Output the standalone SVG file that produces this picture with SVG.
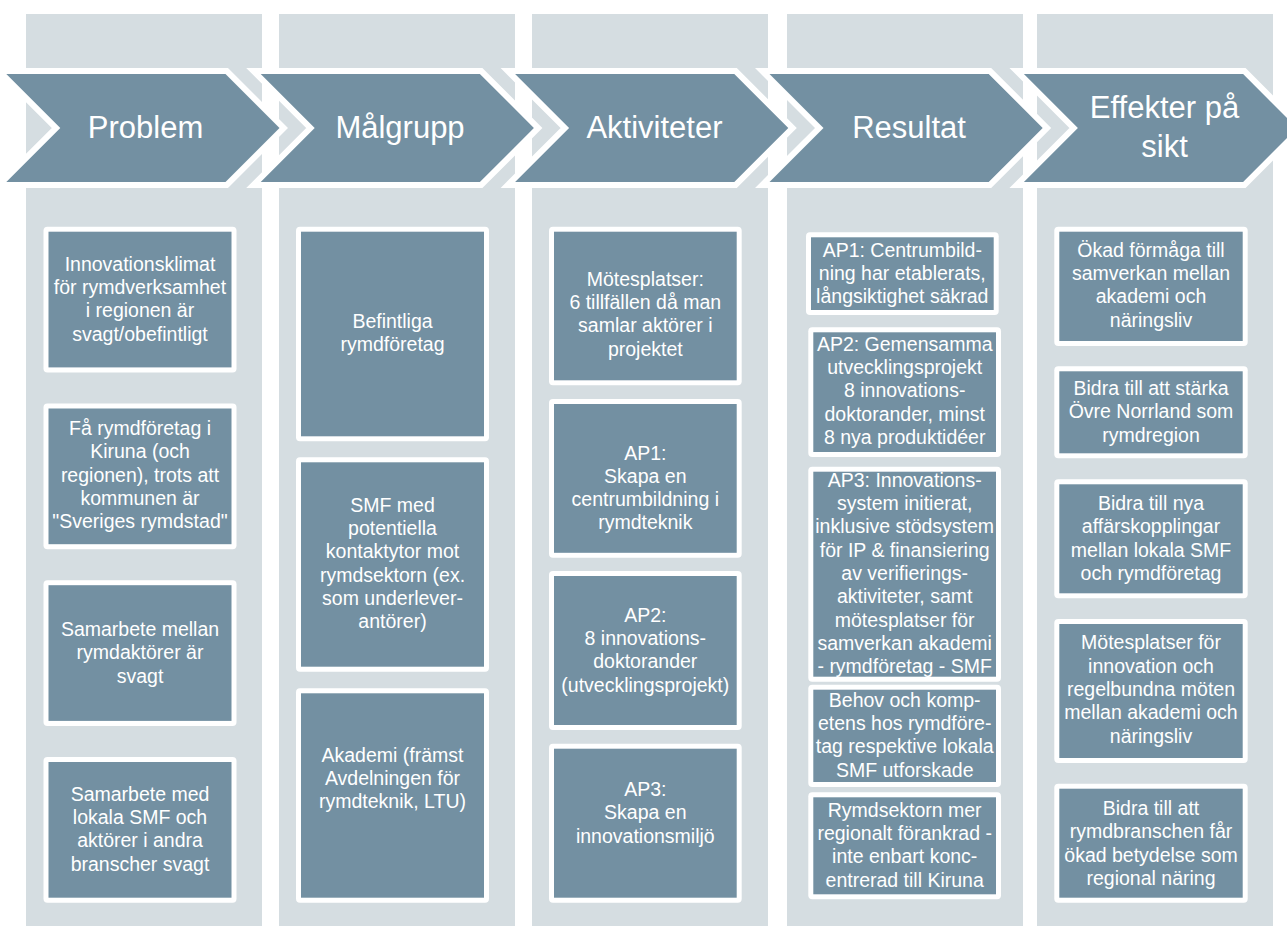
<svg xmlns="http://www.w3.org/2000/svg" width="1287" height="926" viewBox="0 0 1287 926">
<style>
.bg{fill:#ffffff}
.col{fill:#D5DDE1}
.chev{fill:#7390A2;stroke:#ffffff;stroke-width:12;stroke-linejoin:miter;stroke-miterlimit:10;paint-order:stroke}
.htxt{font-family:"Liberation Sans",Arial,sans-serif;font-size:31px;fill:#ffffff;text-anchor:middle}
.frame{fill:#ffffff}
.box{fill:#7390A2}
.t{font-family:"Liberation Sans",Arial,sans-serif;font-size:19.5px;fill:#ffffff;text-anchor:middle}
</style>
<rect class="bg" x="0" y="0" width="1287" height="926"/>
<g id="columns">
<rect class="col" x="26" y="14" width="236" height="912"/>
<rect class="col" x="279" y="14" width="236" height="912"/>
<rect class="col" x="532" y="14" width="236" height="912"/>
<rect class="col" x="787" y="14" width="236" height="912"/>
<rect class="col" x="1037" y="14" width="236" height="912"/>
</g>
<g id="headers">
<g id="h-problem">
<polygon class="chev" points="6.3,74 225.5,74 279.5,128 225.5,182 6.3,182 60.3,128"/>
<text class="htxt" x="145.5" y="138">Problem</text>
</g>
<g id="h-malgrupp">
<polygon class="chev" points="260.7,74 479.9,74 533.9,128 479.9,182 260.7,182 314.7,128"/>
<text class="htxt" x="400" y="138">Målgrupp</text>
</g>
<g id="h-aktiviteter">
<polygon class="chev" points="515.1,74 734.3,74 788.3,128 734.3,182 515.1,182 569.1,128"/>
<text class="htxt" x="654.5" y="138">Aktiviteter</text>
</g>
<g id="h-resultat">
<polygon class="chev" points="769.5,74 988.7,74 1042.7,128 988.7,182 769.5,182 823.5,128"/>
<text class="htxt" x="909" y="138">Resultat</text>
</g>
<g id="h-effekter">
<polygon class="chev" points="1023.9,74 1243.1,74 1297.1,128 1243.1,182 1023.9,182 1077.9,128"/>
<text class="htxt" x="1164.5" y="118">Effekter på</text>
<text class="htxt" x="1164.5" y="157">sikt</text>
</g>
</g>
<g id="connectors"/>

<!-- Column 1: Problem -->
<g id="p1">
<rect class="frame" x="43.5" y="226.7" width="193" height="145.7" rx="4"/>
<rect class="box" x="48.5" y="231.7" width="183" height="135.7"/>
<text class="t" y="270.7"><tspan x="140" dy="0">Innovationsklimat</tspan><tspan x="140" dy="23.3">för rymdverksamhet</tspan><tspan x="140" dy="23.3">i regionen är</tspan><tspan x="140" dy="23.3">svagt/obefintligt</tspan></text>
</g>
<g id="p2">
<rect class="frame" x="43.5" y="403.5" width="193" height="145.7" rx="4"/>
<rect class="box" x="48.5" y="408.5" width="183" height="135.7"/>
<text class="t" y="435"><tspan x="140" dy="0">Få rymdföretag i</tspan><tspan x="140" dy="23.3">Kiruna (och</tspan><tspan x="140" dy="23.3">regionen), trots att</tspan><tspan x="140" dy="23.3">kommunen är</tspan><tspan x="140" dy="23.3">"Sveriges rymdstad"</tspan></text>
</g>
<g id="p3">
<rect class="frame" x="43.5" y="580.2" width="193" height="145.7" rx="4"/>
<rect class="box" x="48.5" y="585.2" width="183" height="135.7"/>
<text class="t" y="636"><tspan x="140" dy="0">Samarbete mellan</tspan><tspan x="140" dy="23.3">rymdaktörer är</tspan><tspan x="140" dy="23.3">svagt</tspan></text>
</g>
<g id="p4">
<rect class="frame" x="43.5" y="757" width="193" height="145.7" rx="4"/>
<rect class="box" x="48.5" y="762" width="183" height="135.7"/>
<text class="t" y="800.7"><tspan x="140" dy="0">Samarbete med</tspan><tspan x="140" dy="23.3">lokala SMF och</tspan><tspan x="140" dy="23.3">aktörer i andra</tspan><tspan x="140" dy="23.3">branscher svagt</tspan></text>
</g>

<!-- Column 2: Målgrupp -->
<g id="m1">
<rect class="frame" x="296" y="226.7" width="193" height="214.6" rx="4"/>
<rect class="box" x="301" y="231.7" width="183" height="204.6"/>
<text class="t" y="328"><tspan x="392.5" dy="0">Befintliga</tspan><tspan x="392.5" dy="23.3">rymdföretag</tspan></text>
</g>
<g id="m2">
<rect class="frame" x="296" y="457.3" width="193" height="214.4" rx="4"/>
<rect class="box" x="301" y="462.3" width="183" height="204.4"/>
<text class="t" y="511.7"><tspan x="392.5" dy="0">SMF med</tspan><tspan x="392.5" dy="23.3">potentiella</tspan><tspan x="392.5" dy="23.3">kontaktytor mot</tspan><tspan x="392.5" dy="23.3">rymdsektorn (ex.</tspan><tspan x="392.5" dy="23.3">som underlever-</tspan><tspan x="392.5" dy="23.3">antörer)</tspan></text>
</g>
<g id="m3">
<rect class="frame" x="296" y="688.3" width="193" height="214.4" rx="4"/>
<rect class="box" x="301" y="693.3" width="183" height="204.4"/>
<text class="t" y="761.7"><tspan x="392.5" dy="0">Akademi (främst</tspan><tspan x="392.5" dy="23.3">Avdelningen för</tspan><tspan x="392.5" dy="23.3">rymdteknik, LTU)</tspan></text>
</g>

<!-- Column 3: Aktiviteter -->
<g id="a1">
<rect class="frame" x="549" y="226.7" width="192.7" height="158.6" rx="4"/>
<rect class="box" x="554" y="231.7" width="182.7" height="148.6"/>
<text class="t" y="285.7"><tspan x="645.3" dy="0">Mötesplatser:</tspan><tspan x="645.3" dy="23.3">6 tillfällen då man</tspan><tspan x="645.3" dy="23.3">samlar aktörer i</tspan><tspan x="645.3" dy="23.3">projektet</tspan></text>
</g>
<g id="a2">
<rect class="frame" x="549" y="399" width="192.7" height="158.8" rx="4"/>
<rect class="box" x="554" y="404" width="182.7" height="148.8"/>
<text class="t" y="459.5"><tspan x="645.3" dy="0">AP1:</tspan><tspan x="645.3" dy="23.3">Skapa en</tspan><tspan x="645.3" dy="23.3">centrumbildning i</tspan><tspan x="645.3" dy="23.3">rymdteknik</tspan></text>
</g>
<g id="a3">
<rect class="frame" x="549" y="571" width="192.7" height="159" rx="4"/>
<rect class="box" x="554" y="576" width="182.7" height="149"/>
<text class="t" y="621.7"><tspan x="645.3" dy="0">AP2:</tspan><tspan x="645.3" dy="23.3">8 innovations-</tspan><tspan x="645.3" dy="23.3">doktorander</tspan><tspan x="645.3" dy="23.3">(utvecklingsprojekt)</tspan></text>
</g>
<g id="a4">
<rect class="frame" x="549" y="743.7" width="192.7" height="159" rx="4"/>
<rect class="box" x="554" y="748.7" width="182.7" height="149"/>
<text class="t" y="796"><tspan x="645.3" dy="0">AP3:</tspan><tspan x="645.3" dy="23.3">Skapa en</tspan><tspan x="645.3" dy="23.3">innovationsmiljö</tspan></text>
</g>

<!-- Column 4: Resultat -->
<g id="r1">
<rect class="frame" x="806" y="232.3" width="192.7" height="82.7" rx="4"/>
<rect class="box" x="811" y="237.3" width="182.7" height="72.7"/>
<text class="t" y="256.7"><tspan x="902.3" dy="0">AP1: Centrumbild-</tspan><tspan x="902.3" dy="23.3">ning har etablerats,</tspan><tspan x="902.3" dy="23.3">långsiktighet säkrad</tspan></text>
</g>
<g id="r2">
<rect class="frame" x="808.3" y="327.3" width="192.7" height="129.7" rx="4"/>
<rect class="box" x="813.3" y="332.3" width="182.7" height="119.7"/>
<text class="t" y="350.7"><tspan x="904.7" dy="0">AP2: Gemensamma</tspan><tspan x="904.7" dy="23.3">utvecklingsprojekt</tspan><tspan x="904.7" dy="23.3">8 innovations-</tspan><tspan x="904.7" dy="23.3">doktorander, minst</tspan><tspan x="904.7" dy="23.3">8 nya produktidéer</tspan></text>
</g>
<g id="r3">
<rect class="frame" x="808.3" y="466.7" width="192.7" height="215" rx="4"/>
<rect class="box" x="813.3" y="471.7" width="182.7" height="205"/>
<text class="t" y="486.7"><tspan x="904.7" dy="0">AP3: Innovations-</tspan><tspan x="904.7" dy="23.3">system initierat,</tspan><tspan x="904.7" dy="23.3">inklusive stödsystem</tspan><tspan x="904.7" dy="23.3">för IP &amp; finansiering</tspan><tspan x="904.7" dy="23.3">av verifierings-</tspan><tspan x="904.7" dy="23.3">aktiviteter, samt</tspan><tspan x="904.7" dy="23.3">mötesplatser för</tspan><tspan x="904.7" dy="23.3">samverkan akademi</tspan><tspan x="904.7" dy="23.3">- rymdföretag - SMF</tspan></text>
</g>
<g id="r4">
<rect class="frame" x="808.3" y="684.7" width="192.7" height="102.3" rx="4"/>
<rect class="box" x="813.3" y="689.7" width="182.7" height="92.3"/>
<text class="t" y="706.7"><tspan x="904.7" dy="0">Behov och komp-</tspan><tspan x="904.7" dy="23.3">etens hos rymdföre-</tspan><tspan x="904.7" dy="23.3">tag respektive lokala</tspan><tspan x="904.7" dy="23.3">SMF utforskade</tspan></text>
</g>
<g id="r5">
<rect class="frame" x="808.3" y="792.3" width="192.7" height="107" rx="4"/>
<rect class="box" x="813.3" y="797.3" width="182.7" height="97"/>
<text class="t" y="816.7"><tspan x="904.7" dy="0">Rymdsektorn mer</tspan><tspan x="904.7" dy="23.3">regionalt förankrad -</tspan><tspan x="904.7" dy="23.3">inte enbart konc-</tspan><tspan x="904.7" dy="23.3">entrerad till Kiruna</tspan></text>
</g>

<!-- Column 5: Effekter på sikt -->
<g id="e1">
<rect class="frame" x="1054.3" y="226.7" width="193.4" height="119.3" rx="4"/>
<rect class="box" x="1059.3" y="231.7" width="183.4" height="109.3"/>
<text class="t" y="256.7"><tspan x="1151" dy="0">Ökad förmåga till</tspan><tspan x="1151" dy="23.3">samverkan mellan</tspan><tspan x="1151" dy="23.3">akademi och</tspan><tspan x="1151" dy="23.3">näringsliv</tspan></text>
</g>
<g id="e2">
<rect class="frame" x="1054.3" y="366.3" width="193.4" height="92" rx="4"/>
<rect class="box" x="1059.3" y="371.3" width="183.4" height="82"/>
<text class="t" y="395"><tspan x="1151" dy="0">Bidra till att stärka</tspan><tspan x="1151" dy="23.3">Övre Norrland som</tspan><tspan x="1151" dy="23.3">rymdregion</tspan></text>
</g>
<g id="e3">
<rect class="frame" x="1054.3" y="479.3" width="193.4" height="119" rx="4"/>
<rect class="box" x="1059.3" y="484.3" width="183.4" height="109"/>
<text class="t" y="510"><tspan x="1151" dy="0">Bidra till nya</tspan><tspan x="1151" dy="23.3">affärskopplingar</tspan><tspan x="1151" dy="23.3">mellan lokala SMF</tspan><tspan x="1151" dy="23.3">och rymdföretag</tspan></text>
</g>
<g id="e4">
<rect class="frame" x="1054.3" y="619" width="193.4" height="144" rx="4"/>
<rect class="box" x="1059.3" y="624" width="183.4" height="134"/>
<text class="t" y="649.3"><tspan x="1151" dy="0">Mötesplatser för</tspan><tspan x="1151" dy="23.3">innovation och</tspan><tspan x="1151" dy="23.3">regelbundna möten</tspan><tspan x="1151" dy="23.3">mellan akademi och</tspan><tspan x="1151" dy="23.3">näringsliv</tspan></text>
</g>
<g id="e5">
<rect class="frame" x="1054.3" y="783.7" width="193.4" height="119" rx="4"/>
<rect class="box" x="1059.3" y="788.7" width="183.4" height="109"/>
<text class="t" y="815"><tspan x="1151" dy="0">Bidra till att</tspan><tspan x="1151" dy="23.3">rymdbranschen får</tspan><tspan x="1151" dy="23.3">ökad betydelse som</tspan><tspan x="1151" dy="23.3">regional näring</tspan></text>
</g>
</svg>
